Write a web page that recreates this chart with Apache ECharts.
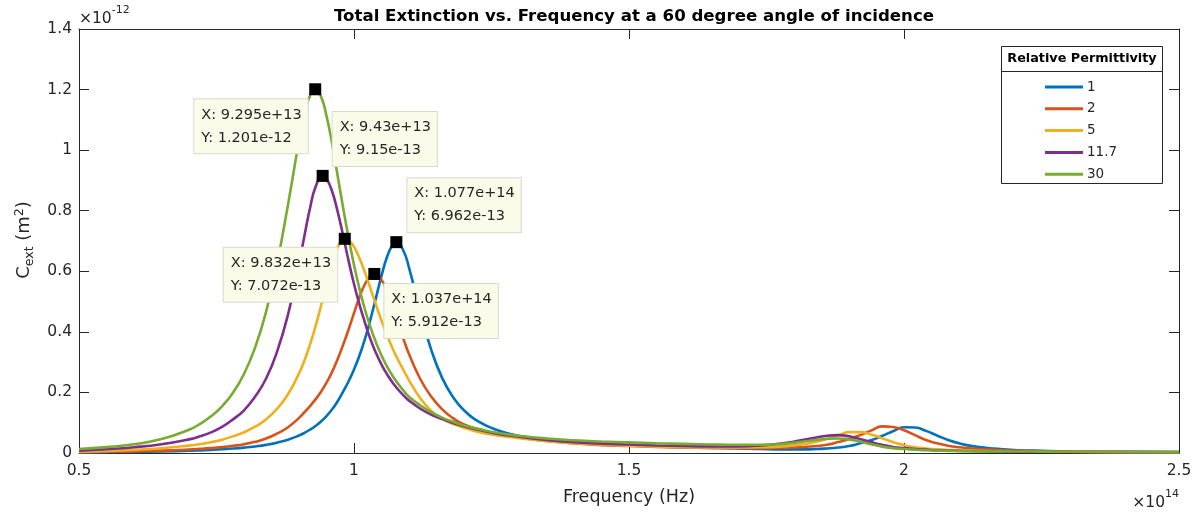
<!DOCTYPE html>
<html>
<head>
<meta charset="utf-8">
<script src="https://cdn.jsdelivr.net/npm/echarts@6/dist/echarts.min.js"></script>
<style>
  html, body { margin: 0; padding: 0; background: #ffffff; }
  #chart { width: 1197px; height: 516px; }
</style>
</head>
<body>
<div id="chart"></div>
<script>
// Frequency grid, in units of 1e14 Hz
const freq = [
  0.50, 0.55, 0.60, 0.65, 0.70, 0.72, 0.74, 0.76, 0.78, 0.80,
  0.82, 0.84, 0.86, 0.88, 0.90, 0.91, 0.92, 0.93, 0.94, 0.95,
  0.96, 0.97, 0.98, 0.99, 1.00, 1.01, 1.02, 1.03, 1.04, 1.05,
  1.06, 1.07, 1.08, 1.09, 1.10, 1.12, 1.14, 1.16, 1.18, 1.20,
  1.23, 1.26, 1.30, 1.35, 1.40, 1.45, 1.50, 1.55, 1.60, 1.65,
  1.70, 1.74, 1.78, 1.81, 1.84, 1.86, 1.88, 1.90, 1.92, 1.94,
  1.96, 1.98, 2.00, 2.02, 2.04, 2.06, 2.08, 2.10, 2.13, 2.16,
  2.20, 2.25, 2.30, 2.40, 2.50
];

// Extinction cross-section, in units of 1e-12 m^2, one list per relative permittivity
const cextEps1 = [
  0.002, 0.0027, 0.0036, 0.005, 0.0073, 0.0087, 0.0103, 0.0122, 0.0146, 0.0177,
  0.0217, 0.0268, 0.0341, 0.0439, 0.0578, 0.0666, 0.077, 0.089, 0.104, 0.122,
  0.1435, 0.170, 0.202, 0.236, 0.276, 0.322, 0.377, 0.442, 0.513, 0.585,
  0.647, 0.687, 0.694, 0.667, 0.612, 0.470, 0.343, 0.249, 0.185, 0.141,
  0.100, 0.076, 0.056, 0.044, 0.036, 0.030, 0.026, 0.022, 0.019, 0.017,
  0.015, 0.013, 0.012, 0.012, 0.013, 0.015, 0.018, 0.023, 0.032, 0.042,
  0.056, 0.072, 0.085, 0.084, 0.073, 0.058, 0.043, 0.032, 0.021, 0.015,
  0.010, 0.007, 0.005, 0.004, 0.003
];
const cextEps2 = [
  0.003, 0.004, 0.0055, 0.0079, 0.0115, 0.0136, 0.0162, 0.0195, 0.0237, 0.0289,
  0.0368, 0.0477, 0.064, 0.085, 0.116, 0.135, 0.155, 0.177, 0.202, 0.232,
  0.267, 0.309, 0.356, 0.407, 0.462, 0.515, 0.558, 0.585, 0.590, 0.571,
  0.534, 0.484, 0.429, 0.376, 0.327, 0.246, 0.187, 0.145, 0.115, 0.094,
  0.076, 0.063, 0.051, 0.040, 0.032, 0.026, 0.023, 0.020, 0.018, 0.017,
  0.016, 0.016, 0.017, 0.019, 0.023, 0.027, 0.036, 0.046, 0.059, 0.074,
  0.088, 0.086, 0.075, 0.059, 0.043, 0.032, 0.024, 0.019, 0.014, 0.011,
  0.008, 0.006, 0.005, 0.0035, 0.003
];
const cextEps5 = [
  0.0045, 0.0068, 0.0104, 0.0158, 0.0244, 0.0292, 0.0357, 0.0441, 0.0549, 0.0685,
  0.0868, 0.1106, 0.1455, 0.194, 0.263, 0.306, 0.358, 0.418, 0.486, 0.557,
  0.625, 0.678, 0.706, 0.703, 0.681, 0.643, 0.596, 0.543, 0.489, 0.437,
  0.389, 0.346, 0.308, 0.274, 0.240, 0.182, 0.140, 0.114, 0.096, 0.083,
  0.068, 0.058, 0.049, 0.039, 0.032, 0.027, 0.024, 0.021, 0.019, 0.018,
  0.018, 0.019, 0.022, 0.027, 0.037, 0.046, 0.058, 0.069, 0.069, 0.061,
  0.049, 0.036, 0.026, 0.019, 0.015, 0.012, 0.010, 0.009, 0.007, 0.006,
  0.005, 0.0045, 0.004, 0.003, 0.0025
];
const cextEps11p7 = [
  0.008, 0.0125, 0.019, 0.029, 0.045, 0.055, 0.068, 0.086, 0.111, 0.141,
  0.186, 0.245, 0.334, 0.457, 0.624, 0.718, 0.808, 0.878, 0.913, 0.906,
  0.865, 0.799, 0.720, 0.636, 0.558, 0.490, 0.430, 0.375, 0.330, 0.292,
  0.260, 0.233, 0.210, 0.190, 0.173, 0.147, 0.127, 0.112, 0.099, 0.088,
  0.075, 0.064, 0.054, 0.043, 0.036, 0.031, 0.028, 0.025, 0.023, 0.022,
  0.022, 0.025, 0.032, 0.041, 0.051, 0.057, 0.059, 0.055, 0.046, 0.036,
  0.027, 0.020, 0.016, 0.013, 0.011, 0.009, 0.008, 0.007, 0.006, 0.005,
  0.0045, 0.004, 0.0035, 0.003, 0.0025
];
const cextEps30 = [
  0.013, 0.0193, 0.029, 0.046, 0.077, 0.096, 0.121, 0.154, 0.199, 0.261,
  0.347, 0.465, 0.625, 0.820, 1.030, 1.120, 1.180, 1.200, 1.177, 1.113,
  1.023, 0.918, 0.812, 0.712, 0.621, 0.542, 0.473, 0.415, 0.365, 0.322,
  0.286, 0.255, 0.229, 0.206, 0.186, 0.158, 0.135, 0.117, 0.103, 0.091,
  0.078, 0.067, 0.057, 0.048, 0.042, 0.038, 0.035, 0.032, 0.030, 0.028,
  0.027, 0.027, 0.030, 0.036, 0.043, 0.047, 0.048, 0.045, 0.038, 0.029,
  0.021, 0.016, 0.013, 0.011, 0.009, 0.008, 0.007, 0.0065, 0.006, 0.0055,
  0.005, 0.0045, 0.004, 0.0035, 0.003
];

const permittivity = ['1', '2', '5', '11.7', '30'];
const cextSeries = [cextEps1, cextEps2, cextEps5, cextEps11p7, cextEps30];

// Data tips at each main resonance (same units as above), one per series
const tipFreq = [1.077, 1.037, 0.9832, 0.943, 0.9295];
const tipCext = [0.6962, 0.5912, 0.7072, 0.915, 1.201];

const xTickValues = [0.5, 1, 1.5, 2, 2.5];
const yTickValues = [0, 0.2, 0.4, 0.6, 0.8, 1, 1.2, 1.4];

// ---------------------------------------------------------------
const colors = ['#0072BD', '#D95319', '#EDB120', '#7E2F8E', '#77AC30'];
const axisColor = '#262626';
const font = '"DejaVu Sans", Verdana, sans-serif';

// short scientific notation: 9.43e+13, 1.201e-12
function sci(v) {
  const parts = v.toExponential(3).split('e');
  const mant = parts[0].replace(/\.?0+$/, '');
  const sign = parts[1][0];
  let digits = parts[1].slice(1);
  if (digits.length < 2) digits = '0' + digits;
  return mant + 'e' + sign + digits;
}

// grid samples plus the data-tip sample; grid samples sitting right on top of
// the tip are dropped so the spline has no near-duplicate vertices
function curve(i) {
  const pts = [];
  freq.forEach((f, k) => {
    if (Math.abs(f - tipFreq[i]) > 0.004) pts.push([f, cextSeries[i][k]]);
  });
  pts.push([tipFreq[i], tipCext[i]]);
  pts.sort((a, b) => a[0] - b[0]);
  return pts;
}

// where each data-tip box sits relative to its marker
const tipPlacement = [[17, -58], [16, 16], [-115, 15], [16, -58], [-115, 16]];

const lineSeries = permittivity.map((name, i) => ({
  name: name,
  type: 'line',
  xAxisIndex: 0,
  yAxisIndex: 0,
  data: curve(i),
  showSymbol: false,
  smooth: 0.5,
  lineStyle: { color: colors[i], width: 2.6 },
  itemStyle: { color: colors[i] },
  emphasis: { disabled: true },
  z: 2 + i
}));

const tipSeries = {
  type: 'scatter',
  xAxisIndex: 0,
  yAxisIndex: 0,
  symbol: 'rect',
  symbolSize: 12,
  itemStyle: { color: '#000000', opacity: 1 },
  z: 20,
  silent: true,
  data: tipFreq.map((f, i) => ({
    value: [f, tipCext[i]],
    label: {
      show: true,
      position: tipPlacement[i],
      formatter: 'X: ' + sci(f * 1e14) + '\nY: ' + sci(tipCext[i] * 1e-12),
      fontFamily: font,
      fontSize: 14.5,
      lineHeight: 23,
      color: '#262626',
      opacity: 1,
      backgroundColor: '#fbfbe9',
      borderColor: '#d9d9cf',
      borderWidth: 1,
      padding: [4, 6, 4, 7],
      align: 'left',
      verticalAlign: 'top'
    }
  }))
};

const chart = echarts.init(document.getElementById('chart'), null, { renderer: 'canvas' });

chart.setOption({
  animation: false,
  backgroundColor: '#ffffff',
  title: {
    text: 'Total Extinction vs. Frequency at a 60 degree angle of incidence',
    left: 629,
    top: 3,
    textAlign: 'center',
    textStyle: { fontFamily: font, fontSize: 16.6, fontWeight: 'bold', color: '#000000' }
  },
  grid: { left: 79, top: 29, right: 18, bottom: 63, containLabel: false },
  legend: {
    orient: 'vertical',
    left: 1045,
    top: 79,
    padding: 0,
    itemWidth: 38,
    itemHeight: 3,
    itemGap: 5.8,
    icon: 'rect',
    data: permittivity,
    selectedMode: false,
    textStyle: { fontFamily: font, fontSize: 13.5, color: axisColor, padding: [0, 0, 0, -1], lineHeight: 16 }
  },
  xAxis: [
    {
      type: 'value',
      min: 0.5, max: 2.5, interval: 0.5,
      position: 'bottom',
      axisLine: { show: true, onZero: false, lineStyle: { color: axisColor, width: 1 } },
      axisTick: { show: true, inside: true, length: 10, lineStyle: { color: axisColor } },
      axisLabel: {
        margin: 10, color: axisColor, fontFamily: font, fontSize: 15.5,
        formatter: v => (xTickValues.indexOf(v) >= 0 ? String(v) : '')
      },
      splitLine: { show: false },
      name: 'Frequency (Hz)',
      nameLocation: 'middle',
      nameGap: 35,
      nameTextStyle: { fontFamily: font, fontSize: 17.5, color: axisColor }
    },
    {
      type: 'value',
      min: 0.5, max: 2.5, interval: 0.5,
      position: 'top',
      axisLine: { show: true, onZero: false, lineStyle: { color: axisColor, width: 1 } },
      axisTick: { show: true, inside: true, length: 10, lineStyle: { color: axisColor } },
      axisLabel: { show: false },
      splitLine: { show: false }
    }
  ],
  yAxis: [
    {
      type: 'value',
      min: 0, max: 1.4, interval: 0.2,
      position: 'left',
      axisLine: { show: true, onZero: false, lineStyle: { color: axisColor, width: 1 } },
      axisTick: { show: true, inside: true, length: 10, lineStyle: { color: axisColor } },
      axisLabel: {
        margin: 7, color: axisColor, fontFamily: font, fontSize: 15.5,
        formatter: v => {
          const r = Math.round(v * 10) / 10;
          return yTickValues.indexOf(r) >= 0 ? String(r) : '';
        }
      },
      splitLine: { show: false }
    },
    {
      type: 'value',
      min: 0, max: 1.4, interval: 0.2,
      position: 'right',
      axisLine: { show: true, onZero: false, lineStyle: { color: axisColor, width: 1 } },
      axisTick: { show: true, inside: true, length: 10, lineStyle: { color: axisColor } },
      axisLabel: { show: false },
      splitLine: { show: false }
    }
  ],
  series: lineSeries.concat([tipSeries]),
  graphic: [
    // y-axis label with subscript and superscript
    {
      type: 'text',
      x: 24, y: 240,
      rotation: Math.PI / 2,
      style: {
        text: '{m|C}{sub|ext}{m| (m}{sup|2}{m|)}',
        align: 'center',
        verticalAlign: 'middle',
        fill: axisColor,
        rich: {
          m: { fontFamily: font, fontSize: 18, lineHeight: 26, verticalAlign: 'middle', fill: axisColor },
          sub: { fontFamily: font, fontSize: 12.5, lineHeight: 26, verticalAlign: 'bottom', fill: axisColor, padding: [0, 0, 1, 0] },
          sup: { fontFamily: font, fontSize: 12.5, lineHeight: 26, verticalAlign: 'top', fill: axisColor, padding: [2, 0, 0, 0] }
        }
      }
    },
    // exponent of the y axis
    {
      type: 'text',
      x: 79, y: 16,
      style: {
        text: '{m|\u00d710}{sup|-12}',
        align: 'left',
        verticalAlign: 'middle',
        rich: {
          m: { fontFamily: font, fontSize: 15.5, lineHeight: 22, verticalAlign: 'bottom', fill: axisColor },
          sup: { fontFamily: font, fontSize: 11, lineHeight: 22, verticalAlign: 'top', fill: axisColor }
        }
      }
    },
    // exponent of the x axis
    {
      type: 'text',
      x: 1179, y: 500,
      style: {
        text: '{m|\u00d710}{sup|14}',
        align: 'right',
        verticalAlign: 'middle',
        rich: {
          m: { fontFamily: font, fontSize: 15.5, lineHeight: 22, verticalAlign: 'bottom', fill: axisColor },
          sup: { fontFamily: font, fontSize: 11, lineHeight: 22, verticalAlign: 'top', fill: axisColor }
        }
      }
    },
    // legend frame, heading and divider
    {
      type: 'rect',
      shape: { x: 1001.5, y: 46.5, width: 161, height: 137 },
      style: { fill: '#ffffff', stroke: axisColor, lineWidth: 1 },
      z: -1
    },
    {
      type: 'line',
      shape: { x1: 1001.5, y1: 71.5, x2: 1162.5, y2: 71.5 },
      style: { stroke: axisColor, lineWidth: 1 }
    },
    {
      type: 'text',
      x: 1082, y: 59,
      style: {
        text: 'Relative Permittivity',
        align: 'center',
        verticalAlign: 'middle',
        fontFamily: font,
        fontSize: 12.8,
        fontWeight: 'bold',
        fill: '#000000'
      }
    }
  ]
});
</script>
</body>
</html>
